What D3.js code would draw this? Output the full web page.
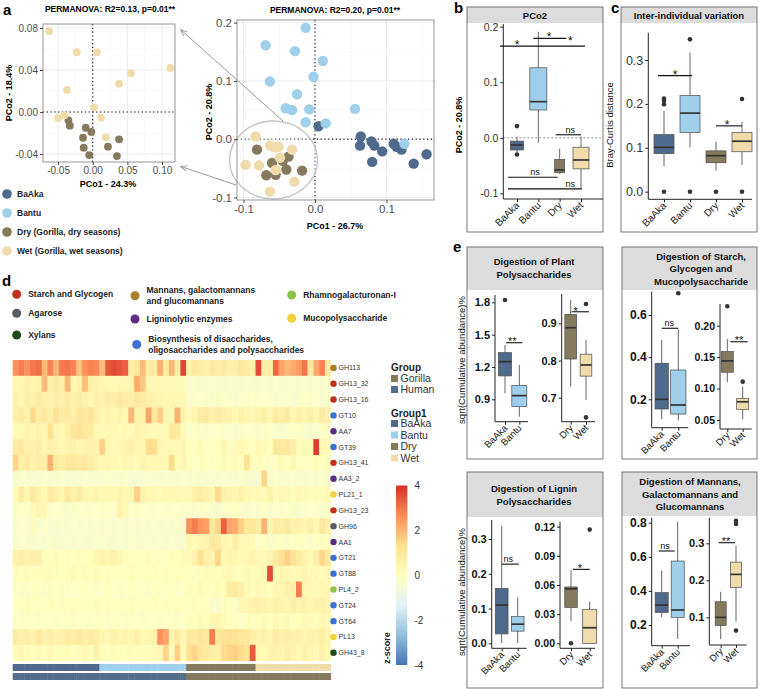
<!DOCTYPE html>
<html><head><meta charset="utf-8">
<script src="https://cdn.jsdelivr.net/npm/d3@7"></script>
<style>body{margin:0;background:#fff;}svg{display:block;}</style>
</head><body><svg id="c" width="760" height="689"></svg>
<script>
// ================= DATA =================
const groups = ["BaAka","Bantu","Dry","Wet"];
const groupColors = ["#4f6a8d","#9fcfeb","#857a5e","#f0dbab"];
const legendLabels = ["BaAka","Bantu","Dry (Gorilla, dry seasons)","Wet (Gorilla, wet seasons)"];

const insetTitle = "PERMANOVA: R2=0.13, p=0.01**";
const mainTitle = "PERMANOVA: R2=0.20, p=0.01**";
const insetXTicks = [-0.05,0,0.05,0.10];
const insetYTicks = [-0.04,0,0.04,0.08];
const mainXTicks = [-0.1,0,0.1];
const mainYTicks = [-0.1,0,0.1,0.2];

const insetWet = [[-0.063,0.077],[-0.023,0.057],[0.006,0.057],[0.055,0.037],[0.112,0.042],[0.038,0.027],[-0.037,0.021],[0.002,0.0045],[0.012,-0.0054],[-0.050,-0.0057],[-0.041,-0.003],[0.019,-0.024]];
const insetDry = [[-0.035,-0.008],[-0.033,-0.013],[-0.010,-0.015],[-0.002,-0.019],[-0.014,-0.0245],[-0.013,-0.034],[-0.005,-0.041],[0.022,-0.033],[0.035,-0.042],[0.038,-0.026]];

const mainBaAka = [[0.005,0.022],[0.064,0.0045],[0.063,-0.011],[0.079,-0.004],[0.083,-0.011],[0.094,-0.021],[0.080,-0.039],[0.110,-0.008],[0.121,-0.018],[0.138,-0.042],[0.156,-0.026],[0.114,-0.013]];
const mainBantu = [[-0.013,0.191],[-0.069,0.161],[-0.028,0.151],[0.011,0.134],[-0.063,0.099],[-0.002,0.107],[-0.025,0.077],[-0.041,0.053],[-0.032,0.050],[-0.008,0.051],[-0.013,0.029],[0.015,0.027],[0.056,0.052],[0.125,-0.008]];
const mainDry = [[-0.081,-0.018],[-0.060,-0.041],[-0.037,-0.030],[-0.040,-0.052],[-0.018,-0.054],[-0.068,-0.062],[-0.055,-0.061],[-0.045,-0.037]];
const mainWet = [[-0.083,0.0045],[-0.063,-0.011],[-0.051,-0.013],[-0.032,-0.018],[-0.097,-0.044],[-0.078,-0.045],[-0.049,-0.032],[-0.055,-0.053],[-0.029,-0.073],[-0.063,-0.090],[-0.057,-0.014]];

// boxplot stats: [lower whisker, q1, median, q3, upper whisker]
const pco2Box = [[-0.026,-0.022,-0.013,-0.006,0.002],[-0.009,0.050,0.065,0.126,0.191],[-0.065,-0.063,-0.058,-0.039,-0.020],[-0.091,-0.056,-0.040,-0.017,0.002]];
const pco2Out = [[0.021,-0.030],[],[],[]];
const bcBox = [[0.058,0.087,0.101,0.130,0.184],[0.101,0.135,0.179,0.219,0.317],[0.048,0.066,0.082,0.093,0.114],[0.061,0.091,0.115,0.135,0.159]];
const bcOut = [[0.212,0.207,0.199,0],[0.347,0],[0],[0.211,0]];
const plantHuman = [[0.956,1.117,1.249,1.333,1.404],[0.739,0.832,0.934,1.027,1.219]];
const plantHumanOut = [[1.822],[]];
const plantGorilla = [[0.730,0.804,0.888,0.924,0.963],[0.694,0.758,0.788,0.817,0.855]];
const plantGorillaOut = [[],[0.952,0.647]];
const starchHuman = [[0.105,0.154,0.200,0.371,0.481],[0.100,0.130,0.173,0.339,0.532]];
const starchHumanOut = [[],[0.703]];
const starchGorilla = [[0.110,0.126,0.144,0.159,0.179],[0.051,0.067,0.079,0.084,0.103]];
const starchGorillaOut = [[0.231],[0.111]];
const ligninHuman = [[0.0,0.027,0.110,0.158,0.337],[0.0,0.035,0.055,0.077,0.132]];
const ligninHumanOut = [[],[]];
const ligninGorilla = [[0.023,0.037,0.056,0.058,0.075],[0.0,0.0,0.016,0.035,0.043]];
const ligninGorillaOut = [[0.0],[0.117]];
const mannanHuman = [[0.245,0.274,0.317,0.390,0.519],[0.118,0.245,0.288,0.575,0.806]];
const mannanHumanOut = [[],[]];
const mannanGorilla = [[0.041,0.078,0.100,0.142,0.169],[0.088,0.181,0.216,0.249,0.293]];
const mannanGorillaOut = [[],[0.361,0.352,0.064]];

// heatmap
const catNames = ["Starch and Glycogen","Agarose","Xylans","Mannans, galactomannans|and glucomannans","Ligninolytic enzymes","Biosynthesis of disaccharides,|oligosaccharides and polysaccharides","Rhamnogalacturonan-I","Mucopolysaccharide"];
const catColors = ["#c1301c","#5b5d66","#1f4a17","#a87e28","#5c2d84","#3b6fd1","#8cc34b","#f0d23c"];
const heatRows = ["GH113","GH13_32","GH13_16","GT10","AA7","GT39","GH13_41","AA3_2","PL21_1","GH13_23","GH96","AA1","GT21","GT88","PL4_2","GT24","GT64","PL13","GH43_8"];
const heatRowCat = [3,0,0,5,4,5,0,4,7,0,1,4,5,5,6,5,5,7,2];
const heatGroupCounts = [15,15,12,13];
const heatValues = [
 [2.6,2.9,2.6,3.0,3.1,1.9,2.8,2.0,2.9,3.0,2.8,1.8,2.6,2.8,2.7, 1.9,3.4,3.6,3.5,3.3,0.7,1.0,1.9,0.8,0.8,2.1,0.8,2.0,0.7,3.7, 0.6,0.9,0.7,0.6,1.0,0.7,0.8,0.6,0.7,1.0,0.8,0.6, 3.6,0.8,0.7,3.2,2.3,2.0,2.2,2.4,3.0,0.8,2.2,2.8,0.9],
 [0.3,0.4,0.6,0.4,0.5,1.9,0.6,0.9,0.7,2.0,0.4,0.6,1.9,0.7,0.5, 0.4,0.3,0.2,0.3,0.3,0.5,2.2,1.7,0.3,0.2,0.3,0.2,0.3,0.2,0.2, -0.3,-0.2,-0.3,-0.3,-0.2,-0.3,-0.3,-0.2,-0.3,-0.3,-0.2,-0.3, -0.3,-0.2,-0.3,-0.2,-0.3,-0.3,-0.2,-0.3,-0.2,-0.3,-0.2,-0.3,-0.2],
 [0.6,0.4,0.7,0.5,0.8,0.6,0.5,0.7,0.6,0.8,0.5,0.7,0.6,0.4,0.6, 0.5,0.7,0.6,0.9,0.8,0.7,0.9,0.8,0.6,0.5,0.4,0.3,0.4,0.3,0.3, -0.2,-0.2,-0.1,-0.2,-0.3,-0.2,-0.1,-0.2,-0.3,-0.2,-0.2,-0.1, -0.2,-0.1,-0.2,-0.3,-0.2,-0.2,-0.4,-0.2,-0.1,-0.2,-0.2,-0.3,-0.2],
 [0.6,0.8,0.5,1.4,0.7,0.9,0.6,1.2,0.8,0.9,0.7,1.1,1.0,1.1,0.6, 0.4,0.5,0.3,0.5,0.4,2.0,0.6,0.5,2.3,0.9,1.6,0.4,0.3,2.1,0.5, 0.2,0.4,0.8,0.9,0.5,0.8,0.6,0.5,0.3,0.6,0.4,0.3, 0.5,0.7,0.3,0.8,0.6,0.9,0.3,0.6,0.4,0.7,0.3,0.8,0.5],
 [0.2,0.3,0.5,0.4,0.6,0.3,1.3,0.4,0.3,0.6,1.1,1.2,1.0,0.8,0.3, 0.2,0.4,0.3,0.2,0.3,0.2,0.5,0.4,0.3,0.2,0.3,0.2,1.0,0.9,0.2, -0.2,-0.1,-0.2,-0.3,-0.2,-0.1,-0.2,-0.2,-0.3,-0.2,-0.1,-0.2, -0.3,-0.2,-0.1,-0.2,-0.3,-0.2,-0.2,-0.1,-0.2,-0.3,-0.2,-0.1,-0.2],
 [0.8,0.9,0.6,0.5,0.7,0.4,0.6,0.5,0.3,0.5,0.6,0.4,0.5,0.6,0.5, 1.6,0.3,0.2,0.3,0.5,0.6,0.4,0.3,1.4,1.3,0.3,0.2,0.3,0.2,0.4, 0.1,0.0,0.2,-0.1,0.0,0.1,0.3,-0.1,0.2,0.3,0.1,0.0, 0.3,0.2,0.0,1.0,0.9,1.0,0.7,0.1,0.3,0.2,3.8,0.3,0.2],
 [1.5,0.6,0.8,0.5,0.7,0.6,2.1,0.9,0.7,0.9,1.0,0.8,0.9,0.7,0.5, 0.3,0.4,0.3,0.2,0.4,0.3,0.2,0.5,0.3,0.3,0.3,0.3,1.4,0.2,0.4, 0.0,-0.2,0.1,0.0,-0.1,0.0,0.1,0.0,0.2,0.0,1.2,0.0, 0.1,0.0,-0.2,-0.1,0.2,0.0,0.3,0.0,-0.1,0.0,0.2,0.0,0.1],
 [-0.3,-0.2,-0.3,-0.4,-0.3,-0.2,-0.3,-0.3,-0.2,-0.3,-0.4,-0.3,-0.2,-0.3,-0.3, -0.3,-0.2,-0.3,-0.3,-0.2,-0.3,-0.4,-0.3,-0.2,-0.3,-0.3,-0.2,-0.3,-0.3,-0.2, -0.3,-0.2,-0.3,-0.3,-0.2,-0.3,-0.2,-0.3,-0.3,-0.2,-0.3,-0.3, -0.3,1.5,-0.3,-0.2,-0.4,-0.3,-0.2,-0.3,-0.3,-0.2,-0.3,-0.2,-0.3],
 [0.2,0.8,0.4,0.9,0.5,0.3,0.8,0.6,0.4,0.9,0.5,0.8,0.4,0.3,0.5, 0.3,0.4,0.3,0.5,0.4,0.3,1.6,0.5,0.4,0.3,0.2,0.3,0.4,0.3,0.2, 0.3,0.6,0.8,0.5,0.4,1.4,0.6,0.5,0.4,0.6,0.3,0.2, 0.3,0.2,0.6,0.1,0.3,0.2,0.1,0.3,0.2,0.1,0.2,0.1,0.2],
 [-0.2,-0.1,-0.2,0.2,0.4,0.3,-0.2,-0.1,-0.2,-0.3,-0.2,-0.1,-0.2,-0.2,-0.1, -0.2,-0.1,-0.2,0.5,0.3,-0.1,-0.2,-0.1,-0.2,-0.2,-0.1,-0.2,-0.2,-0.1,-0.2, -0.2,-0.3,-0.2,-0.1,-0.2,-0.3,-0.2,-0.2,-0.1,-0.2,-0.3,-0.2, -0.2,-0.1,-0.3,-0.2,-0.2,-0.1,-0.2,-0.3,-0.2,-0.1,-0.2,-0.2,-0.1],
 [-0.3,-0.2,-0.3,0.2,-0.3,-0.2,-0.3,-0.3,-0.2,-0.3,-0.2,-0.3,-0.2,-0.3,-0.2, -0.3,-0.2,-0.3,-0.2,-0.3,-0.2,-0.3,-0.2,-0.3,-0.2,-0.3,-0.2,-0.3,-0.2,-0.3, 2.6,2.9,2.5,2.4,1.0,1.5,3.3,2.3,2.2,1.6,1.0,1.0, 0.7,2.1,0.4,0.8,0.7,0.9,0.5,0.6,0.4,0.7,0.3,0.9,0.6],
 [-0.3,-0.2,-0.3,-0.3,-0.2,-0.3,-0.2,-0.3,-0.3,-0.2,-0.3,-0.2,-0.3,-0.3,-0.2, -0.2,-0.3,-0.3,-0.2,-0.3,-0.2,-0.3,-0.3,-0.2,-0.3,-0.2,-0.3,-0.2,-0.3,-0.3, 0.3,0.2,0.4,0.5,0.9,0.8,0.4,0.3,0.8,0.2,0.3,0.2, -0.1,0.0,-0.2,-0.1,0.0,-0.2,-0.1,0.0,-0.1,-0.2,0.0,-0.1,0.0],
 [0.6,0.7,0.5,0.6,0.6,0.1,0.0,0.1,0.0,0.1,0.0,0.1,0.0,0.1,0.4, 0.5,0.4,0.6,0.3,0.1,0.0,-0.1,0.0,0.1,0.0,-0.1,0.0,0.1,0.0,0.2, 0.2,0.5,1.3,0.6,0.5,1.5,0.3,0.5,0.4,0.2,0.3,0.5, 0.3,0.2,0.4,0.8,1.3,1.6,1.2,0.8,0.5,0.3,0.6,1.5,0.9],
 [0.1,0.0,0.2,0.1,0.0,0.1,0.2,0.1,0.0,0.1,0.2,0.0,0.1,0.0,0.1, 0.0,0.1,0.0,-0.1,0.0,0.1,0.0,-0.1,0.0,0.1,0.0,-0.1,0.0,0.1,0.0, 0.0,-0.1,0.1,0.2,0.0,0.1,0.2,0.3,0.1,0.0,0.2,0.1, 0.2,0.3,3.6,0.2,0.4,0.3,0.2,0.3,0.5,0.2,0.3,0.2,0.3],
 [-0.1,-0.2,-0.1,0.0,-0.1,-0.2,-0.1,0.0,-0.1,-0.2,-0.1,-0.1,0.0,-0.1,-0.2, -0.1,0.0,-0.1,-0.2,-0.1,0.0,-0.1,-0.1,-0.2,0.0,-0.1,-0.1,0.0,-0.2,-0.1, 0.1,0.0,0.2,0.1,0.0,0.2,0.1,0.8,0.9,0.7,0.2,0.1, 0.3,0.2,0.1,0.3,0.4,0.6,0.7,2.9,0.4,0.3,0.2,0.4,0.3],
 [0.0,-0.1,0.1,0.0,-0.1,0.0,0.1,0.0,-0.1,0.0,0.1,0.0,-0.1,0.0,0.1, 0.0,0.1,0.0,-0.1,0.0,0.1,0.0,-0.1,0.0,0.1,0.0,-0.1,0.0,0.1,0.0, 0.0,0.1,-0.1,0.0,-0.2,-0.3,0.1,0.0,-0.2,0.3,0.4,0.5, 0.6,0.5,0.4,0.6,0.5,0.4,0.7,0.5,0.6,0.4,0.5,0.6,0.4],
 [-0.1,-0.2,-0.1,-0.1,-0.2,-0.1,-0.1,-0.2,-0.1,-0.1,-0.2,-0.1,-0.1,-0.2,-0.1, -0.1,-0.2,-0.1,-0.1,-0.2,-0.1,-0.1,-0.2,-0.1,-0.1,-0.2,-0.1,-0.1,-0.2,-0.1, 0.1,0.0,0.2,0.1,0.3,0.5,0.2,0.0,0.1,-0.2,0.1,0.0, 0.1,0.2,0.0,0.3,0.1,0.2,0.0,0.1,0.3,0.2,0.1,0.4,0.2],
 [0.8,0.6,0.7,0.5,0.9,0.6,0.7,0.5,0.6,0.8,0.7,0.9,0.6,0.8,0.7, 0.4,0.3,0.6,0.4,0.5,0.4,0.6,0.3,0.4,0.5,2.6,2.3,0.4,0.8,0.4, 0.9,0.8,1.1,0.9,2.9,1.0,1.2,1.3,1.2,1.1,1.0,0.6, 0.5,0.6,0.4,0.8,0.5,0.7,0.6,0.5,0.4,0.6,0.5,0.7,0.4],
 [0.2,0.4,0.1,0.0,0.2,0.1,0.3,0.0,0.1,0.2,0.0,0.1,0.3,0.1,0.6, 0.1,0.0,0.2,0.1,0.0,0.2,0.1,0.0,0.1,0.2,0.3,1.5,0.1,1.6,0.2, 1.3,1.5,1.0,0.9,0.7,0.6,1.4,1.5,1.6,1.4,1.2,3.4, 0.3,0.2,0.5,0.6,0.4,0.7,0.5,0.3,0.6,0.4,0.2,0.6,0.3]
];
const zTicks = [4,2,0,-2,-4];
const heatPalette = ["#4575b4","#91bfdb","#e0f3f8","#ffffbf","#fee090","#fc8d59","#d73027"];

// ================= DRAWING =================
const FONT = '"Liberation Sans", Arial, Helvetica, sans-serif';
const svg = d3.select("#c").attr("font-family", FONT);
const fmt = f => v => d3.format(f)(v).replace("\u2212","-");

function txt(g, x, y, s, o = {}) {
  const t = g.append("text").attr("x", x).attr("y", y).text(s)
    .attr("font-size", o.size || 10).attr("font-weight", o.weight || "normal")
    .attr("fill", o.fill || "#000").attr("text-anchor", o.anchor || "start")
    .attr("font-family", FONT);
  if (o.rotate) t.attr("transform", `rotate(${o.rotate},${x},${y})`);
  return t;
}
function line(g, x1, y1, x2, y2, st = "#000", w = 1, dash = null) {
  const l = g.append("line").attr("x1", x1).attr("y1", y1).attr("x2", x2).attr("y2", y2)
    .attr("stroke", st).attr("stroke-width", w);
  if (dash) l.attr("stroke-dasharray", dash);
  return l;
}

// ---------- Panel a ----------
function scatter(o) {
  const x = d3.scaleLinear().domain(o.xd).range(o.xr);
  const y = d3.scaleLinear().domain(o.yd).range(o.yr);
  const g = svg.append("g");
  o.xMinor.forEach(v => line(g, x(v), o.yr[0], x(v), o.yr[1], "#f3f3f3", 0.5));
  o.yMinor.forEach(v => line(g, o.xr[0], y(v), o.xr[1], y(v), "#f3f3f3", 0.5));
  o.xt.forEach(v => line(g, x(v), o.yr[0], x(v), o.yr[1], "#e4e4e4", 0.7));
  o.yt.forEach(v => line(g, o.xr[0], y(v), o.xr[1], y(v), "#e4e4e4", 0.7));
  line(g, x(0), o.yr[0], x(0), o.yr[1], "#111", 1.1, "1.2,2.6");
  line(g, o.xr[0], y(0), o.xr[1], y(0), "#111", 1.1, "1.2,2.6");
  if (o.pre) o.pre(g, x, y);
  o.series.forEach(s => {
    g.append("g").selectAll("circle").data(s.data).join("circle")
      .attr("cx", d => x(d[0])).attr("cy", d => y(d[1])).attr("r", o.r).attr("fill", s.color);
  });
  g.append("rect").attr("x", o.xr[0]).attr("y", o.yr[1]).attr("width", o.xr[1] - o.xr[0])
    .attr("height", o.yr[0] - o.yr[1]).attr("fill", "none").attr("stroke", "#8a8a8a").attr("stroke-width", 0.9);
  const ax = g.append("g").attr("transform", `translate(0,${o.yr[0]})`)
    .call(d3.axisBottom(x).tickValues(o.xt).tickFormat(fmt(o.xf)).tickSize(3).tickPadding(2));
  const ay = g.append("g").attr("transform", `translate(${o.xr[0]},0)`)
    .call(d3.axisLeft(y).tickValues(o.yt).tickFormat(fmt(o.yf)).tickSize(3).tickPadding(2));
  [ax, ay].forEach(a => {
    a.select(".domain").remove();
    a.selectAll(".tick line").attr("stroke", "#444");
    a.selectAll(".tick text").attr("font-size", o.fs).attr("fill", "#4d4d4d").attr("font-family", FONT);
  });
  return { x, y, g };
}

// inset
scatter({
  xd: [-0.0717, 0.1187], xr: [43, 175], yd: [-0.0476, 0.0838], yr: [162, 24],
  xt: insetXTicks, yt: insetYTicks, xMinor: [-0.025, 0.025, 0.075], yMinor: [-0.02, 0.02, 0.06],
  xf: ".2f", yf: ".2f", fs: 10, r: 3.9,
  series: [{ data: insetDry, color: groupColors[2] }, { data: insetWet, color: groupColors[3] }]
});
txt(svg, 110, 11.5, insetTitle, { size: 8.5, weight: "bold", anchor: "middle" });
txt(svg, 108, 186.5, "PCo1 - 24.3%", { size: 9, weight: "bold", anchor: "middle" });
txt(svg, 12, 93, "PCo2 - 18.4%", { size: 9, weight: "bold", anchor: "middle", rotate: -90 });

// main
scatter({
  xd: [-0.109, 0.1664], xr: [237, 434], yd: [-0.1044, 0.2044], yr: [200, 20],
  xt: mainXTicks, yt: mainYTicks, xMinor: [-0.05, 0.05, 0.15], yMinor: [-0.05, 0.05, 0.15],
  xf: ".1f", yf: ".1f", fs: 11.5, r: 5.2,
  pre: (g) => {
    g.append("ellipse").attr("cx", 273.5).attr("cy", 160).attr("rx", 44).attr("ry", 39)
      .attr("fill", "#ffffff").attr("fill-opacity", 0.3).attr("stroke", "#c4c4c4").attr("stroke-width", 1.4);
  },
  series: [{ data: mainBaAka, color: groupColors[0] }, { data: mainBantu, color: groupColors[1] },
           { data: mainDry, color: groupColors[2] }, { data: mainWet, color: groupColors[3] }]
});
txt(svg, 335, 13, mainTitle, { size: 8.5, weight: "bold", anchor: "middle" });
txt(svg, 335, 229, "PCo1 - 26.7%", { size: 9, weight: "bold", anchor: "middle" });
txt(svg, 212, 112, "PCo2 - 20.8%", { size: 9, weight: "bold", anchor: "middle", rotate: -90 });

// zoom connector arrows
const defs = svg.append("defs");
defs.append("marker").attr("id", "arr").attr("viewBox", "0 0 10 10").attr("refX", 9).attr("refY", 5)
  .attr("markerWidth", 7).attr("markerHeight", 7).attr("orient", "auto-start-reverse")
  .append("path").attr("d", "M0,1 L10,5 L0,9").attr("fill", "none").attr("stroke", "#999").attr("stroke-width", 1.3);
line(svg, 283, 121, 181, 30, "#999", 1).attr("marker-end", "url(#arr)");
line(svg, 236, 185, 181, 166.5, "#999", 1).attr("marker-end", "url(#arr)");

// legend a
legendLabels.forEach((l, i) => {
  const yy = 194 + i * 19;
  svg.append("circle").attr("cx", 7).attr("cy", yy).attr("r", 4.8).attr("fill", groupColors[i]);
  txt(svg, 17, yy + 3.2, l, { size: 8.5, weight: "bold", fill: "#222" });
});

// panel letters
[["a", 3, 15], ["b", 454, 13], ["c", 611, 12.5], ["d", 2, 286], ["e", 453, 252]].forEach(d =>
  txt(svg, d[1], d[2], d[0], { size: 15, weight: "bold" }));

// ---------- frames ----------
function frame(x0, y0, x1, y1, sy, lines, cx, firstBase, lh) {
  svg.append("rect").attr("x", x0).attr("y", y0).attr("width", x1 - x0).attr("height", sy - y0).attr("fill", "#dcdcdc");
  svg.append("rect").attr("x", x0).attr("y", y0).attr("width", x1 - x0).attr("height", y1 - y0)
    .attr("fill", "none").attr("stroke", "#555").attr("stroke-width", 0.8);
  lines.forEach((l, i) => txt(svg, cx, firstBase + i * lh, l, { size: 9.5, weight: "bold", anchor: "middle", fill: "#111" }));
}
frame(467, 7, 603, 232, 23, ["PCo2"], 535, 18.5, 0);
frame(621, 7, 757, 232, 23, ["Inter-individual variation"], 689, 18.5, 0);
frame(467, 247, 603, 459, 290, ["Digestion of Plant", "Polysaccharides"], 534, 265, 12.5);
frame(622, 247, 757, 459, 290, ["Digestion of Starch,", "Glycogen and", "Mucopolysaccharide"], 701, 260, 12.3);
frame(467, 472, 603, 688, 517, ["Digestion of Lignin", "Polysaccharides"], 534, 492, 12.5);
frame(622, 472, 757, 688, 516, ["Digestion of Mannans,", "Galactomannans and", "Glucomannans"], 690, 485, 12.5);

// ---------- box subplots ----------
function boxSub(o) {
  const x = d3.scalePoint().domain(o.cats).range(o.xr);
  const y = d3.scaleLinear().domain(o.yd).range(o.yr);
  const g = svg.append("g");
  if (o.pre) o.pre(g, x, y);
  const ay = g.append("g").attr("transform", `translate(${o.ax},0)`)
    .call(d3.axisLeft(y).tickValues(o.ticks).tickFormat(fmt(o.f)).tickSize(3).tickPadding(2));
  ay.select(".domain").remove();
  ay.selectAll(".tick line").attr("stroke", "#222");
  ay.selectAll(".tick text").attr("font-size", o.fs).attr("font-weight", o.fw || "normal")
    .attr("fill", o.tc || "#333").attr("font-family", FONT);
  line(g, o.ax, o.top, o.ax, o.bot, "#222", 1);
  const axb = g.append("g").attr("transform", `translate(0,${o.bot})`)
    .call(d3.axisBottom(x).tickSize(3).tickFormat(""));
  axb.select(".domain").remove();
  axb.selectAll(".tick line").attr("stroke", "#222");
  line(g, o.ax, o.bot, o.right, o.bot, "#222", 1);
  o.cats.forEach(c => txt(g, x(c) + 3, o.bot + 7, c, { size: o.xfs || 10, anchor: "end", rotate: -45, fill: o.xc || "#222" }));
  o.cats.forEach((c, i) => {
    const s = o.stats[i], w = o.w[i], cx = x(c), col = o.colors[i];
    line(g, cx, y(s[0]), cx, y(s[1]), "#555", 0.9);
    line(g, cx, y(s[3]), cx, y(s[4]), "#555", 0.9);
    g.append("rect").attr("x", cx - w / 2).attr("y", y(s[3])).attr("width", w)
      .attr("height", Math.max(0.5, y(s[1]) - y(s[3]))).attr("fill", col).attr("stroke", "#4a4a4a").attr("stroke-width", 0.7);
    line(g, cx - w / 2, y(s[2]), cx + w / 2, y(s[2]), "#333", 1.7);
    g.append("g").selectAll("circle").data(o.out[i] || []).join("circle")
      .attr("cx", cx).attr("cy", d => y(d)).attr("r", 2.3).attr("fill", "#333");
  });
  return { x, y, g };
}
function sig(p, x1, x2, v, label, lx, size) {
  const yy = p.y(v);
  line(p.g, x1, yy, x2, yy, "#111", 1.1);
  txt(p.g, lx, label === "ns" ? yy - 2.2 : yy + (size || 11) * 0.25, label,
      { size: label === "ns" ? 9 : (size || 11), anchor: "middle", fill: "#111" });
}

// Panel b
const pb = boxSub({
  cats: groups, xr: [517, 581], yd: [-0.1, 0.2], yr: [193.3, 26.7], ax: 503.3, top: 24, bot: 199, right: 603,
  ticks: [-0.1, 0, 0.1, 0.2], f: ".1f", fs: 10.5, stats: pco2Box, out: pco2Out, w: [13, 17, 10, 16], colors: groupColors,
  pre: (g, x, y) => line(g, 503.3, y(0), 603, y(0), "#999", 1, "2,2")
});
txt(svg, 462, 125, "PCo2 - 20.8%", { size: 9, weight: "bold", anchor: "middle", rotate: -90 });
sig(pb, pb.x("BaAka") - 17, pb.x("Wet") + 4, 0.165, "*", pb.x("BaAka"), 12);
txt(pb.g, (pb.x("Dry") + pb.x("Wet")) / 2, pb.y(0.165) - 1.5, "*", { size: 12, anchor: "middle", fill: "#111" });
sig(pb, pb.x("Bantu") - 5, (pb.x("Dry") + pb.x("Wet")) / 2 - 4, 0.179, "*", (pb.x("Bantu") + pb.x("Dry")) / 2, 12);
sig(pb, pb.x("Dry") - 4, pb.x("Wet"), 0.0054, "ns", (pb.x("Dry") + pb.x("Wet")) / 2);
sig(pb, pb.x("BaAka") - 9, pb.x("Dry") - 2, -0.071, "ns", 535);
sig(pb, pb.x("BaAka") - 9, pb.x("Wet") + 1, -0.092, "ns", (pb.x("Dry") + pb.x("Wet")) / 2);

// Panel c
const pc = boxSub({
  cats: groups, xr: [664, 742], yd: [0, 0.3], yr: [191.7, 60], ax: 648.3, top: 32.7, bot: 199.3, right: 752,
  ticks: [0, 0.1, 0.2, 0.3], f: ".1f", fs: 12.5, stats: bcBox, out: bcOut, w: [20, 20, 20, 20], colors: groupColors
});
txt(svg, 613, 125, "Bray-Curtis distance", { size: 9.5, anchor: "middle", rotate: -90, fill: "#111" });
sig(pc, pc.x("BaAka") - 6, pc.x("Bantu") + 2, 0.2645, "*", 675, 12);
sig(pc, pc.x("Dry"), pc.x("Wet"), 0.15, "*", 727, 12);

// Panel e
const eBase = { fs: 11, fw: "bold", tc: "#111", xfs: 9.5, xc: "#111" };
const human = groups.slice(0, 2), gor = groups.slice(2);
const hc = groupColors.slice(0, 2), gc = groupColors.slice(2);
const e1 = boxSub(Object.assign({}, eBase, { cats: human, xr: [505, 519.3], yd: [0.9, 1.8], yr: [399.3, 302.3], ax: 495, top: 295, bot: 421.7, right: 528,
  ticks: [0.9, 1.2, 1.5, 1.8], f: ".1f", stats: plantHuman, out: plantHumanOut, w: [13, 15], colors: hc }));
sig(e1, e1.x("BaAka") + 1, e1.x("Bantu") + 3, 1.425, "**", 512.3, 11);
const e2 = boxSub(Object.assign({}, eBase, { cats: gor, xr: [570.7, 586], yd: [0.7, 0.9], yr: [397.7, 323.3], ax: 561.7, top: 294, bot: 421.7, right: 595,
  ticks: [0.7, 0.8, 0.9], f: ".1f", stats: plantGorilla, out: plantGorillaOut, w: [11.7, 11.7], colors: gc }));
sig(e2, e2.x("Dry") + 1, e2.x("Wet") + 3, 0.931, "*", 575.7, 11);
const e3 = boxSub(Object.assign({}, eBase, { cats: human, xr: [661.7, 678.3], yd: [0.2, 0.6], yr: [399.3, 315], ax: 651.7, top: 291.7, bot: 427.7, right: 688.3,
  ticks: [0.2, 0.4, 0.6], f: ".1f", fs: 12, stats: starchHuman, out: starchHumanOut, w: [13.3, 15.3], colors: hc }));
sig(e3, e3.x("BaAka"), e3.x("Bantu"), 0.537, "ns", 669.3);
const e4 = boxSub(Object.assign({}, eBase, { cats: gor, xr: [727.3, 742.7], yd: [0.05, 0.20], yr: [420, 325.7], ax: 720, top: 304, bot: 429, right: 751.7,
  ticks: [0.05, 0.10, 0.15, 0.20], f: ".2f", fs: 10.5, stats: starchGorilla, out: starchGorillaOut, w: [12, 12], colors: gc }));
sig(e4, e4.x("Dry") + 3, e4.x("Wet") + 5, 0.1745, "**", 739, 11);
const e5 = boxSub(Object.assign({}, eBase, { cats: human, xr: [501.7, 517.7], yd: [0, 0.3], yr: [643.3, 539], ax: 491.7, top: 520, bot: 648.3, right: 526.7,
  ticks: [0, 0.1, 0.2, 0.3], f: ".1f", stats: ligninHuman, out: ligninHumanOut, w: [12.7, 12.7], colors: hc }));
sig(e5, e5.x("BaAka"), e5.x("Bantu") + 1, 0.2277, "ns", 508.3);
const e6 = boxSub(Object.assign({}, eBase, { cats: gor, xr: [571, 589.7], yd: [0, 0.12], yr: [643.3, 526.7], ax: 560, top: 521.7, bot: 648.3, right: 595,
  ticks: [0, 0.03, 0.06, 0.09, 0.12], f: ".2f", fs: 10.5, stats: ligninGorilla, out: ligninGorillaOut, w: [12.5, 14], colors: gc }));
sig(e6, e6.x("Dry") + 2, e6.x("Wet"), 0.0761, "*", 580, 11);
const e7 = boxSub(Object.assign({}, eBase, { cats: human, xr: [661.7, 677.7], yd: [0.2, 0.8], yr: [625, 522.7], ax: 651.7, top: 517.7, bot: 645.7, right: 690,
  ticks: [0.2, 0.4, 0.6, 0.8], f: ".1f", fs: 12, stats: mannanHuman, out: mannanHumanOut, w: [13, 13], colors: hc }));
sig(e7, e7.x("BaAka") - 3, e7.x("Bantu") - 3, 0.634, "ns", 665);
const e8 = boxSub(Object.assign({}, eBase, { cats: gor, xr: [720.7, 736], yd: [0.1, 0.3], yr: [617.3, 543.3], ax: 709.3, top: 517.7, bot: 645, right: 746.7,
  ticks: [0.1, 0.2, 0.3], f: ".1f", stats: mannanGorilla, out: mannanGorillaOut, w: [11, 11], colors: gc }));
sig(e8, e8.x("Dry") - 2, e8.x("Wet") - 1, 0.3016, "**", 726, 11);
txt(svg, 465, 360, "sqrt(Cumulative abundance)%", { size: 9.5, anchor: "middle", rotate: -90, fill: "#111" });
txt(svg, 465, 592, "sqrt(Cumulative abundance)%", { size: 9.5, anchor: "middle", rotate: -90, fill: "#111" });

// ---------- Panel d ----------
const catPos = [[16.7, 294.3], [16.7, 313.3], [16.7, 335], [135, 295.7], [135, 319], [136.7, 344.5], [291.7, 295], [291.7, 318.3]];
catNames.forEach((n, i) => {
  const [cx, cy] = catPos[i];
  svg.append("circle").attr("cx", cx).attr("cy", cy).attr("r", 4.5).attr("fill", catColors[i]);
  const parts = n.split("|");
  const y0 = parts.length > 1 ? cy - 3 : cy + 3;
  parts.forEach((p, j) => txt(svg, cx + 11.5, y0 + j * 11, p, { size: 8.5, weight: "bold", fill: "#222" }));
});

const nCols = d3.sum(heatGroupCounts);
const colGroup = heatGroupCounts.flatMap((n, gi) => Array(n).fill(gi));
const hx = d3.scaleBand().domain(d3.range(nCols)).range([12.7, 330.7]);
const hy = d3.scaleBand().domain(heatRows).range([360, 660.7]);
const zColor = d3.scaleLinear().domain(d3.range(7).map(i => -4 + i * 8 / 6)).range(heatPalette).clamp(true);
const hg = svg.append("g");
heatRows.forEach((r, ri) => {
  hg.append("g").selectAll("rect").data(heatValues[ri]).join("rect")
    .attr("x", (d, i) => hx(i)).attr("y", hy(r)).attr("width", hx.bandwidth() + 0.4).attr("height", hy.bandwidth() + 0.4)
    .attr("fill", d => zColor(d));
  hg.append("circle").attr("cx", 333.5).attr("cy", hy(r) + hy.bandwidth() / 2).attr("r", 3.2).attr("fill", catColors[heatRowCat[ri]]);
  txt(hg, 338.5, hy(r) + hy.bandwidth() / 2 + 2.5, r, { size: 7, fill: "#333" });
});
// annotation bars
hg.append("g").selectAll("rect").data(colGroup).join("rect")
  .attr("x", (d, i) => hx(i)).attr("y", 664).attr("width", hx.bandwidth() + 0.4).attr("height", 7)
  .attr("fill", d => groupColors[d]);
const hostColors = ["#857a5e", "#556d8d"];
hg.append("g").selectAll("rect").data(colGroup).join("rect")
  .attr("x", (d, i) => hx(i)).attr("y", 673).attr("width", hx.bandwidth() + 0.4).attr("height", 7)
  .attr("fill", d => d < 2 ? hostColors[1] : hostColors[0]);

// heatmap legends
txt(svg, 391, 371, "Group", { size: 10, weight: "bold", fill: "#222" });
[["Gorilla", hostColors[0]], ["Human", hostColors[1]]].forEach((d, i) => {
  svg.append("rect").attr("x", 391).attr("y", 375 + i * 11).attr("width", 7).attr("height", 7).attr("fill", d[1]);
  txt(svg, 400.5, 382 + i * 11, d[0], { size: 10.5, fill: "#333" });
});
txt(svg, 391, 416.5, "Group1", { size: 10, weight: "bold", fill: "#222" });
groups.forEach((gname, i) => {
  svg.append("rect").attr("x", 391).attr("y", 420 + i * 11.5).attr("width", 7).attr("height", 7).attr("fill", groupColors[i]);
  txt(svg, 400.5, 427 + i * 11.5, gname, { size: 10.5, fill: "#333" });
});
// color bar
const grad = defs.append("linearGradient").attr("id", "zg").attr("x1", 0).attr("y1", 1).attr("x2", 0).attr("y2", 0);
heatPalette.forEach((c, i) => grad.append("stop").attr("offset", i / 6).attr("stop-color", c));
const zy = d3.scaleLinear().domain([-4, 4]).range([665, 485.5]);
svg.append("rect").attr("x", 396).attr("y", zy(4)).attr("width", 11.3).attr("height", zy(-4) - zy(4)).attr("fill", "url(#zg)");
zTicks.forEach(t => txt(svg, 414.5, zy(t) + 3.5, fmt("d")(t), { size: 10, fill: "#333" }));
txt(svg, 390, 648, "z-score", { size: 9, weight: "bold", anchor: "middle", rotate: -90, fill: "#222" });
</script></body></html>
